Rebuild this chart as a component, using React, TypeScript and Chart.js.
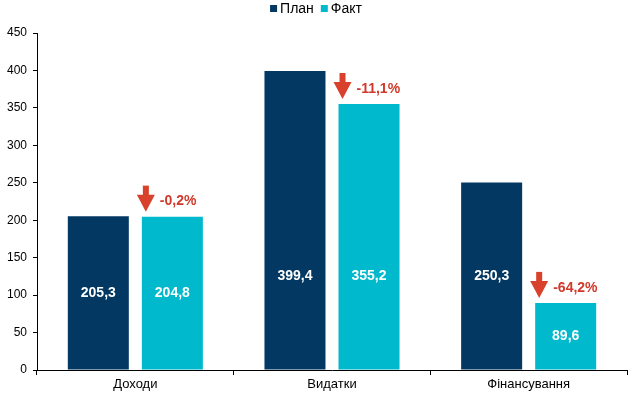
import React, { useEffect, useRef } from "react";
import { Chart, registerables } from "chart.js";

Chart.register(...registerables);

const categories = ["Доходи", "Видатки", "Фінансування"];
const planValues = [205.3, 399.4, 250.3];
const factValues = [204.8, 355.2, 89.6];
const seriesNames = ["План", "Факт"];
const yMax = 450;
const yStep = 50;

const PLAN_COLOR = "#023862";
const FACT_COLOR = "#00B9CD";
const RED = "#D8412C";
const FONT = "'Liberation Sans', Arial, sans-serif";

const fmt = (v: number) => v.toFixed(1).replace(".", ",");

const overlayPlugin = {
  id: "overlay",
  afterDatasetsDraw(chart: any) {
    const ctx = chart.ctx;
    const y = chart.scales.y;
    ctx.save();
    ctx.font = `bold 14px ${FONT}`;
    ctx.fillStyle = "#ffffff";
    ctx.textAlign = "center";
    ctx.textBaseline = "middle";
    const cap = Math.min(...planValues.concat(factValues).filter((v) => v > 240));
    [planValues, factValues].forEach((vals, di) => {
      const meta = chart.getDatasetMeta(di);
      meta.data.forEach((bar: any, i: number) => {
        const v = vals[i];
        const py = y.getPixelForValue(Math.min(v, cap) / 2);
        ctx.fillText(fmt(v), bar.x, py);
      });
    });
    const meta = chart.getDatasetMeta(1);
    meta.data.forEach((bar: any, i: number) => {
      const left = bar.x - bar.width / 2;
      const top = bar.y;
      const cx = left + 4;
      const tip = top - 5;
      ctx.fillStyle = RED;
      ctx.fillRect(cx - 3, tip - 26, 6, 10);
      ctx.beginPath();
      ctx.moveTo(cx - 9, tip - 17);
      ctx.lineTo(cx + 9, tip - 17);
      ctx.lineTo(cx, tip);
      ctx.closePath();
      ctx.fill();
      const dev = (factValues[i] / planValues[i] - 1) * 100;
      ctx.font = `bold 14px ${FONT}`;
      ctx.textAlign = "left";
      ctx.textBaseline = "middle";
      ctx.fillStyle = "#D0392B";
      ctx.fillText(fmt(dev) + "%", left + 18, top - 15);
    });

    // legend
    const colors = [PLAN_COLOR, FACT_COLOR];
    ctx.font = `14px ${FONT}`;
    const box = 7;
    const gapBoxText = 3;
    const gapItems = 7;
    const widths = seriesNames.map((n) => ctx.measureText(n).width);
    const total =
      widths.reduce((a, b) => a + b, 0) + seriesNames.length * (box + gapBoxText) + gapItems * (seriesNames.length - 1);
    let x = chart.width / 2 - total / 2;
    const ly = 9;
    ctx.textAlign = "left";
    ctx.textBaseline = "middle";
    seriesNames.forEach((n, i) => {
      ctx.fillStyle = colors[i];
      ctx.fillRect(x, ly - 4, box, box);
      x += box + gapBoxText;
      ctx.fillStyle = "#000";
      ctx.fillText(n, x, ly);
      x += widths[i] + gapItems;
    });
    ctx.restore();
  },
};

export default function App() {
  const ref = useRef<HTMLCanvasElement | null>(null);
  useEffect(() => {
    if (!ref.current) return;
    const chart = new Chart(ref.current, {
      type: "bar",
      data: {
        labels: categories,
        datasets: [
          {
            label: seriesNames[0],
            data: planValues,
            backgroundColor: PLAN_COLOR,
            barPercentage: 0.824,
            categoryPercentage: 0.753,
          },
          {
            label: seriesNames[1],
            data: factValues,
            backgroundColor: FACT_COLOR,
            barPercentage: 0.824,
            categoryPercentage: 0.753,
          },
        ],
      },
      options: {
        animation: false,
        responsive: false,
        maintainAspectRatio: false,
        layout: { padding: { top: 33, right: 5, left: 0, bottom: 0 } },
        plugins: {
          legend: { display: false },
          tooltip: { enabled: false },
        },
        scales: {
          x: {
            grid: {
              display: true,
              drawOnChartArea: false,
              drawTicks: true,
              tickLength: 5,
              color: "#000",
              offset: true,
            },
            border: { display: true, color: "#000", width: 1 },
            ticks: {
              color: "#000",
              font: { family: FONT, size: 13 },
              padding: 2,
            },
            afterFit: (s: any) => {
              s.height = 26;
            },
          },
          y: {
            min: 0,
            max: yMax,
            ticks: {
              stepSize: yStep,
              color: "#000",
              font: { family: FONT, size: 12 },
              padding: 6,
            },
            grid: {
              display: true,
              drawOnChartArea: false,
              drawTicks: true,
              tickLength: 4,
              color: "#000",
            },
            border: { display: true, color: "#000", width: 1 },
            afterFit: (s: any) => {
              s.width = 37;
            },
          },
        },
      },
      plugins: [overlayPlugin],
    });
    return () => chart.destroy();
  }, []);
  return (
    <div style={{ position: "fixed", left: 0, top: 0, width: 632, height: 396, background: "#fff" }}>
      <canvas ref={ref} width={632} height={396} />
    </div>
  );
}
